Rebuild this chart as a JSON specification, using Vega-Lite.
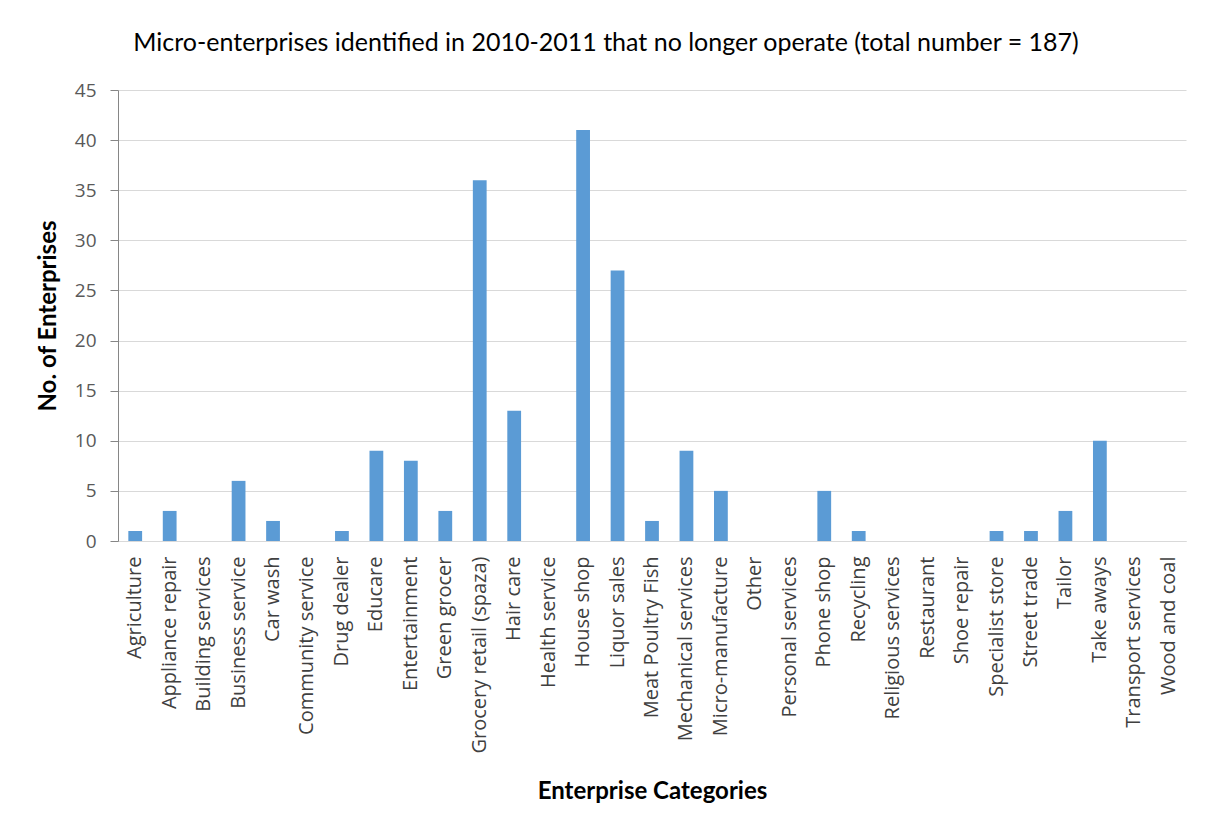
{
  "$schema": "https://vega.github.io/schema/vega-lite/v6.json",
  "width": 1068,
  "height": 451,
  "autosize": {"type": "none"},
  "padding": {"left": 118, "top": 90, "right": 26, "bottom": 297},
  "background": "white",
  "title": {
    "text": "Micro-enterprises identified in 2010-2011 that no longer operate  (total number = 187)",
    "font": "Lato",
    "fontSize": 25,
    "fontWeight": "normal",
    "color": "#000000",
    "anchor": "middle",
    "dx": -46,
    "offset": 25
  },
  "data": {
    "values": [
      {"category": "Agriculture", "count": 1},
      {"category": "Appliance repair", "count": 3},
      {"category": "Building services", "count": 0},
      {"category": "Business service", "count": 6},
      {"category": "Car wash", "count": 2},
      {"category": "Community service", "count": 0},
      {"category": "Drug dealer", "count": 1},
      {"category": "Educare", "count": 9},
      {"category": "Entertainment", "count": 8},
      {"category": "Green grocer", "count": 3},
      {"category": "Grocery retail (spaza)", "count": 36},
      {"category": "Hair care", "count": 13},
      {"category": "Health service", "count": 0},
      {"category": "House shop", "count": 41},
      {"category": "Liquor sales", "count": 27},
      {"category": "Meat Poultry Fish", "count": 2},
      {"category": "Mechanical services", "count": 9},
      {"category": "Micro-manufacture", "count": 5},
      {"category": "Other", "count": 0},
      {"category": "Personal services", "count": 0},
      {"category": "Phone shop", "count": 5},
      {"category": "Recycling", "count": 1},
      {"category": "Religious services", "count": 0},
      {"category": "Restaurant", "count": 0},
      {"category": "Shoe repair", "count": 0},
      {"category": "Specialist store", "count": 1},
      {"category": "Street trade", "count": 1},
      {"category": "Tailor", "count": 3},
      {"category": "Take aways", "count": 10},
      {"category": "Transport services", "count": 0},
      {"category": "Wood and coal", "count": 0}
    ]
  },
  "mark": {"type": "bar", "color": "#5b9bd5"},
  "encoding": {
    "x": {
      "field": "category",
      "type": "nominal",
      "sort": null,
      "scale": {"paddingInner": 0.6, "paddingOuter": 0.3},
      "axis": {
        "title": "Enterprise Categories",
        "titleFont": "Lato",
        "titleFontSize": 24,
        "titleFontWeight": "bold",
        "titleColor": "#000000",
        "titleY": 250,
        "titleBaseline": "middle",
        "labelAngle": -90,
        "labelFont": "Open Sans",
        "labelFontSize": 20,
        "labelColor": "#404040",
        "labelPadding": 15,
        "labelOverlap": false,
        "labelLimit": 300,
        "domainColor": "#d9d9d9",
        "domainWidth": 1,
        "ticks": false
      }
    },
    "y": {
      "field": "count",
      "type": "quantitative",
      "scale": {"domain": [0, 45]},
      "axis": {
        "title": "No. of Enterprises",
        "titleFont": "Lato",
        "titleFontSize": 24,
        "titleFontWeight": "bold",
        "titleColor": "#000000",
        "titleX": -70,
        "titleBaseline": "middle",
        "values": [0, 5, 10, 15, 20, 25, 30, 35, 40, 45],
        "labelFont": "Open Sans",
        "labelFontSize": 19,
        "labelColor": "#595959",
        "labelPadding": 14,
        "domainColor": "#868686",
        "domainWidth": 1,
        "tickColor": "#868686",
        "tickSize": 8,
        "gridColor": "#d9d9d9",
        "gridWidth": 1
      }
    }
  },
  "config": {"view": {"stroke": null}}
}
